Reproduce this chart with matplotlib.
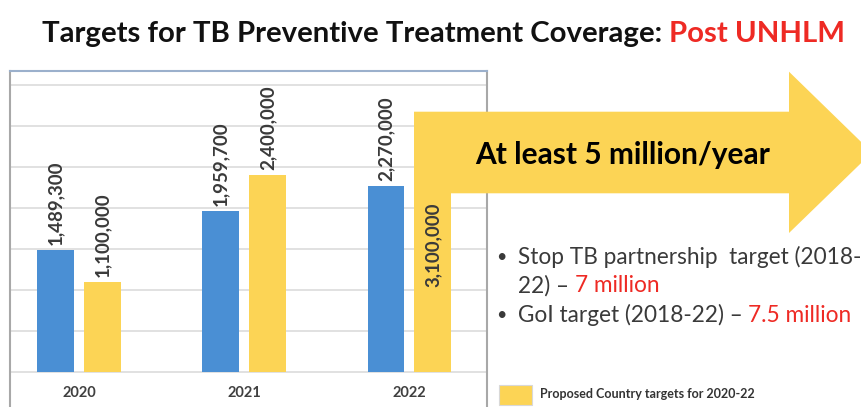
import numpy as np
import matplotlib.pyplot as plt
from matplotlib.patches import Polygon, Rectangle

# data
years = ["2020", "2021", "2022"]
achieved = [1489300, 1959700, 2270000]
targets = [1100000, 2400000, 3100000]
grid_vals = [0, 500000, 1000000, 1500000, 2000000, 2500000, 3000000, 3500000]

blue = "#4a8fd4"
yellow = "#fcd455"
grey_txt = "#3a3a3a"
red = "#ee2a24"
W, H = 861, 407

plt.rcParams['font.family'] = ['Lato', 'DejaVu Sans']

fig = plt.figure(figsize=(W / 100, H / 100), dpi=100)

# chart box (pixel positions from the slide)
L, R, T, B = 10, 487, 71, 409
ax = fig.add_axes([L / W, (H - B) / H, (R - L) / W, (B - T) / H])
ax.set_xlim(-0.419, 2.471)
ax.set_ylim(-455000, 3671000)
for v in grid_vals:
    ax.axhline(v, color="#dcdcdc", lw=1.2, zorder=0)
ax.set_xticks([])
ax.set_yticks([])
for s in ax.spines.values():
    s.set_color("#a8a8a8")
    s.set_linewidth(1.5)
ax.spines['top'].set_color("#9bb0cc")

x = np.arange(len(years))
w = 0.222
off = 0.142
ax.bar(x - off, achieved, w, color=blue, zorder=2)
ax.bar(x + off, targets, w, color=yellow, zorder=2)

lab_fs = 13.5
for i in range(len(years)):
    ax.text(x[i] - off, achieved[i] + 60000, f"{achieved[i]:,}", rotation=90,
            ha="center", va="bottom", fontsize=lab_fs, fontweight="bold", color=grey_txt)
    if i < 2:
        ax.text(x[i] + off, targets[i] + 60000, f"{targets[i]:,}", rotation=90,
                ha="center", va="bottom", fontsize=lab_fs, fontweight="bold", color=grey_txt)
    ax.text(x[i], -260000, years[i], ha="center", va="center",
            fontsize=10.5, fontweight="bold", color="#404040")
# last target label sits inside the bar
ax.text(x[2] + off, 1550000, f"{targets[2]:,}", rotation=90, ha="center", va="center",
        fontsize=lab_fs, fontweight="bold", color=grey_txt, zorder=5)

# big bent arrow (figure pixels, y from top)
def px(xp, yp):
    return (xp / W, (H - yp) / H)

arrow_pts = [px(414, 193.3), px(414, 111.7), px(789, 111.7), px(789, 71.7),
             px(872, 152.5), px(789, 233), px(789, 193.3)]
fig.patches.append(Polygon(arrow_pts, closed=True, transform=fig.transFigure,
                           facecolor=yellow, edgecolor="none", zorder=3))
fig.text(623 / W, (H - 155) / H, "At least 5 million/year", ha="center", va="center",
         fontsize=21.5, fontweight="bold", color="black", zorder=6)

# title
t1 = fig.text(42 / W, (H - 34) / H, "Targets for TB Preventive Treatment Coverage: ",
              ha="left", va="center", fontsize=21.2, fontweight="bold", color="#111111")
fig.canvas.draw()
bb = t1.get_window_extent()
fig.text(bb.x1 / W, (H - 34) / H, "Post UNHLM", ha="left", va="center",
         fontsize=21.2, fontweight="bold", color=red)

# bullets
fs = 16.3
fig.text(496 / W, (H - 257) / H, "•", ha="left", va="center", fontsize=13, color=grey_txt)
fig.text(518 / W, (H - 257) / H, "Stop TB partnership  target (2018-", ha="left", va="center",
         fontsize=fs, color=grey_txt)
t2 = fig.text(518 / W, (H - 286) / H, "22) – ", ha="left", va="center", fontsize=fs, color=grey_txt)
fig.canvas.draw()
bb = t2.get_window_extent()
fig.text(bb.x1 / W, (H - 286) / H, "7 million", ha="left", va="center", fontsize=fs, color=red)
fig.text(496 / W, (H - 315) / H, "•", ha="left", va="center", fontsize=13, color=grey_txt)
t3 = fig.text(518 / W, (H - 315) / H, "GoI target (2018-22) – ", ha="left", va="center",
              fontsize=fs, color=grey_txt)
fig.canvas.draw()
bb = t3.get_window_extent()
fig.text(bb.x1 / W, (H - 315) / H, "7.5 million", ha="left", va="center", fontsize=fs, color=red)

# legend
fig.patches.append(Rectangle(px(499, 405), 33 / W, 20 / H, transform=fig.transFigure,
                             facecolor=yellow, edgecolor="#d8d8d8", lw=0.8))
fig.text(540 / W, (H - 394) / H, "Proposed Country targets for 2020-22", ha="left", va="center",
         fontsize=9, fontweight="bold", color="#333333")

plt.savefig("out.png", dpi=100)
